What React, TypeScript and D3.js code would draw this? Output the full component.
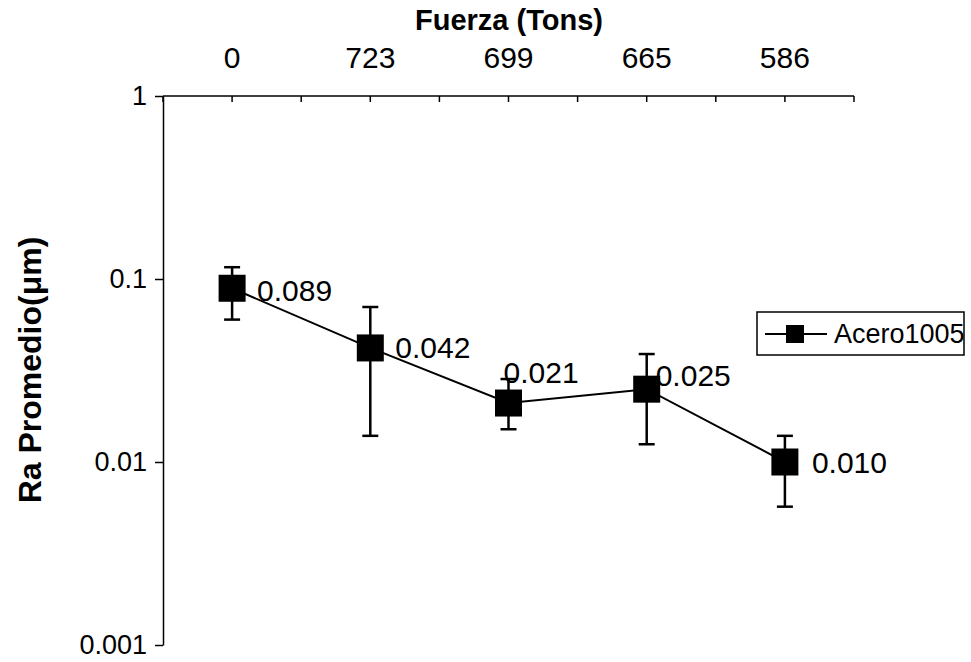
import React, { useEffect, useRef } from 'react';
import * as d3 from 'd3';

// Fuerza (Tons) categories, as printed on the top axis
const categories = ['0', '723', '699', '665', '586'];
// Ra promedio (µm) for Acero1005
const raValues = [0.089, 0.042, 0.021, 0.025, 0.01];
// error bar ends
const errLow = [0.06, 0.0139, 0.0151, 0.0125, 0.0057];
const errHigh = [0.116, 0.0703, 0.0284, 0.0389, 0.0139];
const yTicks = [1, 0.1, 0.01, 0.001];
const seriesName = 'Acero1005';

// where each value label sits relative to its marker (px)
const labelNudge: [number, number][] = [
  [25, 2],
  [25, 0],
  [-5, -31],
  [9, -14],
  [27, 0],
];

const App = () => {
  const ref = useRef<SVGSVGElement>(null);

  useEffect(() => {
    document.body.style.margin = '0';
    const svg = d3.select(ref.current);
    svg.selectAll('*').remove();

    const width = 971;
    const height = 662;
    const left = 163;
    const right = 854;
    const top = 96;
    const bottom = 645;
    const font = 'Arial, "Liberation Sans", sans-serif';

    const x = d3.scaleBand().domain(categories).range([left, right]);
    const y = d3.scaleLog().domain([0.001, 1]).range([bottom, top]);

    svg.append('rect').attr('width', width).attr('height', height).attr('fill', '#fff');

    // top category axis, ticks point down into the plot
    const topAxis = svg.append('g');
    topAxis.append('line')
      .attr('x1', left).attr('x2', right)
      .attr('y1', top).attr('y2', top)
      .attr('stroke', '#000').attr('stroke-width', 1.5);
    const tickXs: number[] = [];
    categories.forEach((c) => {
      tickXs.push(x(c)!, x(c)! + x.bandwidth() / 2);
    });
    tickXs.push(right);
    topAxis.selectAll('line.tick')
      .data(tickXs)
      .join('line')
      .attr('class', 'tick')
      .attr('x1', (d) => d).attr('x2', (d) => d)
      .attr('y1', top).attr('y2', top + 6)
      .attr('stroke', '#000').attr('stroke-width', 1.5);
    topAxis.selectAll('text')
      .data(categories)
      .join('text')
      .attr('x', (d) => x(d)! + x.bandwidth() / 2)
      .attr('y', 68)
      .attr('text-anchor', 'middle')
      .attr('font-family', font)
      .attr('font-size', 30)
      .text((d) => d);

    svg.append('text')
      .attr('x', 509)
      .attr('y', 30)
      .attr('text-anchor', 'middle')
      .attr('font-family', font)
      .attr('font-size', 29)
      .attr('font-weight', 'bold')
      .text('Fuerza (Tons)');

    // left log axis
    const yAxis = svg.append('g')
      .attr('transform', `translate(${left},0)`)
      .call(
        d3.axisLeft(y)
          .tickValues(yTicks)
          .tickSizeInner(8)
          .tickSizeOuter(0)
          .tickPadding(8)
          .tickFormat((d) => String(d))
      );
    yAxis.select('.domain').attr('stroke-width', 1.5);
    yAxis.selectAll('.tick line').attr('stroke-width', 1.5);
    yAxis.selectAll('.tick text')
      .attr('font-family', font)
      .attr('font-size', 27)
      .attr('fill', '#000');

    svg.append('text')
      .attr('transform', `translate(41,370) rotate(-90)`)
      .attr('text-anchor', 'middle')
      .attr('font-family', font)
      .attr('font-size', 32)
      .attr('font-weight', 'bold')
      .text('Ra Promedio(\u03bcm)');

    const cx = (i: number) => x(categories[i])! + x.bandwidth() / 2;

    // connecting line
    const line = d3.line<number>()
      .x((_, i) => cx(i))
      .y((d) => y(d));
    svg.append('path')
      .datum(raValues)
      .attr('fill', 'none')
      .attr('stroke', '#000')
      .attr('stroke-width', 2)
      .attr('d', line);

    // error bars
    const cap = 8;
    const err = svg.append('g').attr('stroke', '#000').attr('stroke-width', 2.5);
    raValues.forEach((_, i) => {
      const px = cx(i);
      err.append('line')
        .attr('x1', px).attr('x2', px)
        .attr('y1', y(errHigh[i])).attr('y2', y(errLow[i]));
      [errHigh[i], errLow[i]].forEach((v) => {
        err.append('line')
          .attr('x1', px - cap).attr('x2', px + cap)
          .attr('y1', y(v)).attr('y2', y(v));
      });
    });

    // markers
    const size = 27;
    svg.selectAll('rect.marker')
      .data(raValues)
      .join('rect')
      .attr('class', 'marker')
      .attr('x', (_, i) => cx(i) - size / 2)
      .attr('y', (d) => y(d) - size / 2)
      .attr('width', size)
      .attr('height', size)
      .attr('fill', '#000');

    // value labels
    const fmt = d3.format('.3f');
    svg.selectAll('text.value')
      .data(raValues)
      .join('text')
      .attr('class', 'value')
      .attr('x', (_, i) => cx(i) + labelNudge[i][0])
      .attr('y', (d, i) => y(d) + labelNudge[i][1])
      .attr('dy', '0.35em')
      .attr('font-family', font)
      .attr('font-size', 30)
      .text((d) => fmt(d));

    // legend
    const legend = svg.append('g').attr('transform', 'translate(757,312)');
    legend.append('rect')
      .attr('width', 207)
      .attr('height', 43)
      .attr('fill', '#fff')
      .attr('stroke', '#000')
      .attr('stroke-width', 1.5);
    legend.append('line')
      .attr('x1', 8).attr('x2', 70)
      .attr('y1', 22).attr('y2', 22)
      .attr('stroke', '#000').attr('stroke-width', 2);
    legend.append('rect')
      .attr('x', 29).attr('y', 13)
      .attr('width', 18).attr('height', 18)
      .attr('fill', '#000');
    legend.append('text')
      .attr('x', 77)
      .attr('y', 22)
      .attr('dy', '0.35em')
      .attr('font-family', font)
      .attr('font-size', 27)
      .text(seriesName);
  }, []);

  return <svg ref={ref} width={971} height={662} style={{ display: 'block' }} />;
};

export default App;
